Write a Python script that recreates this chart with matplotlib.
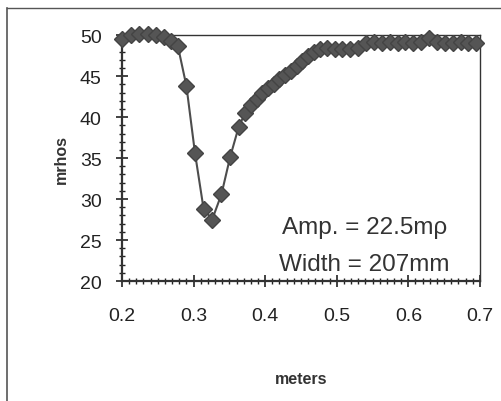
import numpy as np
import matplotlib
matplotlib.use("Agg")
import matplotlib.pyplot as plt
from matplotlib.ticker import MultipleLocator
from matplotlib.lines import Line2D

plt.rcParams['font.family'] = ['Liberation Sans', 'DejaVu Sans']

# position (m) and conductivity (mrhos)
meters = [0.200, 0.212, 0.224, 0.236, 0.248, 0.258, 0.268, 0.278,
          0.290, 0.302, 0.314, 0.326, 0.339, 0.351, 0.363,
          0.372, 0.380, 0.388, 0.396, 0.404, 0.412, 0.420, 0.428,
          0.436, 0.444, 0.452, 0.460, 0.468, 0.477, 0.486, 0.497,
          0.508, 0.519, 0.530, 0.541, 0.552, 0.563, 0.574, 0.585,
          0.596, 0.607, 0.618, 0.629, 0.640, 0.651, 0.662, 0.673,
          0.684, 0.695]
mrhos = [49.5, 50.0, 50.1, 50.1, 50.0, 49.8, 49.3, 48.7,
         43.8, 35.6, 28.8, 27.5, 30.6, 35.1, 38.8,
         40.5, 41.5, 42.2, 42.9, 43.5, 44.0, 44.6, 45.1,
         45.6, 46.2, 46.8, 47.4, 48.0, 48.3, 48.4, 48.3,
         48.3, 48.3, 48.4, 49.1, 49.2, 49.1, 49.2, 49.1,
         49.2, 49.1, 49.2, 49.7, 49.2, 49.1, 49.1, 49.2,
         49.1, 49.1]

fig = plt.figure(figsize=(5.02, 4.02), dpi=100)
ax = fig.add_axes([0.243, 0.2985, 0.713, 0.6115])

ax.plot(meters, mrhos, color='#4d4d4d', lw=1.5, marker='D', ms=8,
        mfc='#555555', mec='#444444', clip_on=False, zorder=3)

ax.set_xlim(0.2, 0.7)
ax.set_ylim(20, 50)
ax.xaxis.set_major_locator(MultipleLocator(0.1))
ax.xaxis.set_minor_locator(MultipleLocator(0.01))
ax.yaxis.set_major_locator(MultipleLocator(5))
ax.yaxis.set_minor_locator(MultipleLocator(1))
ax.set_xticks([0.2, 0.3, 0.4, 0.5, 0.6, 0.7])
ax.set_xticklabels(['0.2', '0.3', '0.4', '0.5', '0.6', '0.7'])
ax.tick_params(which='major', direction='inout', length=9, width=1.2,
               labelsize=14, colors='#222222')
ax.tick_params(which='minor', direction='inout', length=5, width=1.0,
               colors='#222222')
ax.tick_params(axis='x', pad=14)
ax.tick_params(axis='y', pad=10)
for s in ax.spines.values():
    s.set_color('#333333')
    s.set_linewidth(1.0)
ax.spines['left'].set_linewidth(1.6)
ax.spines['bottom'].set_linewidth(1.6)

ax.set_ylabel('mrhos', fontsize=11.5, fontweight='bold', labelpad=8, color='#333333')
ax.set_xlabel('meters', fontsize=11.5, fontweight='bold', labelpad=34, color='#333333')

ax.text(0.539, 26.6, 'Amp. = 22.5m\u03c1', fontsize=17.5, ha='center', va='center',
        color='#333333')
ax.text(0.539, 22.1, 'Width = 207mm', fontsize=17.5, ha='center', va='center',
        color='#333333')

# border of the scanned figure
fig.add_artist(Line2D([7 / 502, 7 / 502], [0, 1 - 9 / 402], color='#555555', lw=1.2))
fig.add_artist(Line2D([7 / 502, 1], [1 - 9 / 402, 1 - 9 / 402], color='#555555', lw=1.0))

fig.savefig('out.png', dpi=100)
